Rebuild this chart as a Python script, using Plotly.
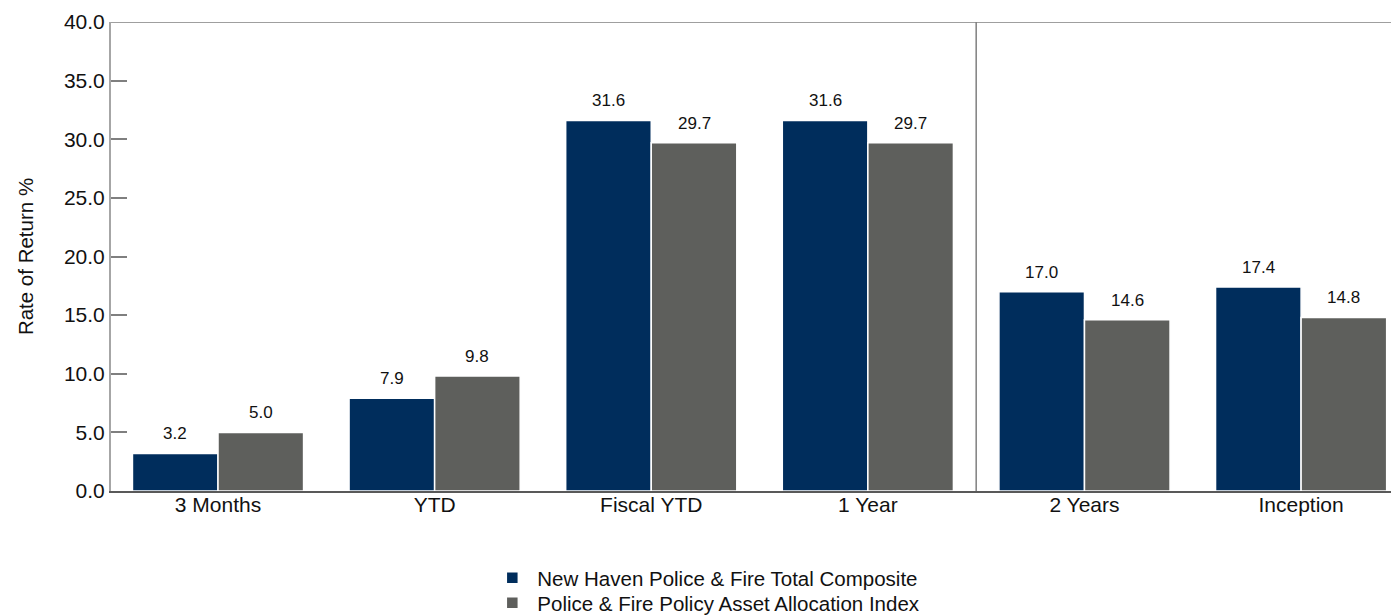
import plotly.graph_objects as go

categories = ["3 Months", "YTD", "Fiscal YTD", "1 Year", "2 Years", "Inception"]
composite = [3.2, 7.9, 31.6, 31.6, 17.0, 17.4]
policy_index = [5.0, 9.8, 29.7, 29.7, 14.6, 14.8]
series_names = ["New Haven Police & Fire Total Composite",
                "Police & Fire Policy Asset Allocation Index"]
colors = ["#002D5C", "#5E5F5C"]
y_ticks = [0, 5, 10, 15, 20, 25, 30, 35, 40]

FONT = "Liberation Sans, Arial, sans-serif"
idx = list(range(len(categories)))
legend_ids = ["legend", "legend2"]

fig = go.Figure()
for name, vals, col, lg in zip(series_names, [composite, policy_index], colors, legend_ids):
    fig.add_trace(go.Bar(
        x=idx, y=vals, name=name, legend=lg,
        marker=dict(color=col, line=dict(color="white", width=1.5)),
        hoverinfo="skip",
    ))

bargap = 0.21
bw = (1 - bargap) / 2
for s, vals in enumerate([composite, policy_index]):
    off = (s - 0.5) * bw
    for i, v in enumerate(vals):
        fig.add_annotation(x=i + off, y=v, text=f"{v:.1f}", showarrow=False,
                           yanchor="bottom", yshift=8,
                           font=dict(family=FONT, size=17, color="#111111"))

# top border and divider
fig.add_shape(type="line", xref="paper", yref="y", x0=0, x1=1, y0=40, y1=40,
              line=dict(color="#7F7F7F", width=1.5))
fig.add_shape(type="line", xref="x", yref="y", x0=3.5, x1=3.5, y0=0, y1=40,
              line=dict(color="#7F7F7F", width=1.5))

legend_style = dict(orientation="v", x=0.294, xanchor="left", yanchor="middle",
                    font=dict(family=FONT, size=20.5, color="#111111"),
                    itemwidth=40, bgcolor="rgba(0,0,0,0)")

fig.update_layout(
    width=1391, height=616,
    margin=dict(l=111, r=0, t=22, b=125, autoexpand=False),
    paper_bgcolor="white", plot_bgcolor="white",
    barmode="group", bargap=bargap, bargroupgap=0,
    font=dict(family=FONT, color="#111111"),
    showlegend=True,
    legend=dict(legend_style, y=-0.1855),
    legend2=dict(legend_style, y=-0.2388),
)
fig.update_xaxes(
    tickmode="array", tickvals=idx, ticktext=categories,
    range=[-0.494, 5.415], showgrid=False, zeroline=False,
    showline=True, linecolor="#595959", linewidth=1.5,
    ticks="", ticklabelstandoff=-6,
    tickfont=dict(family=FONT, size=21, color="#111111"),
)
fig.update_yaxes(
    range=[0, 40], tickmode="array", tickvals=y_ticks,
    ticktext=[f"{t:.1f}" for t in y_ticks],
    showgrid=False, zeroline=False,
    showline=True, linecolor="#A6A6A6", linewidth=2,
    ticks="inside", ticklen=16, tickcolor="#7F7F7F", tickwidth=1.5,
    tickfont=dict(family=FONT, size=21, color="#111111"),
    title=dict(text="Rate of Return %", font=dict(family=FONT, size=20.5, color="#111111"), standoff=25),
)

fig.write_html("out.html", config={"displayModeBar": False},
               post_script="document.body.style.margin='0';document.body.style.overflow='hidden';")
